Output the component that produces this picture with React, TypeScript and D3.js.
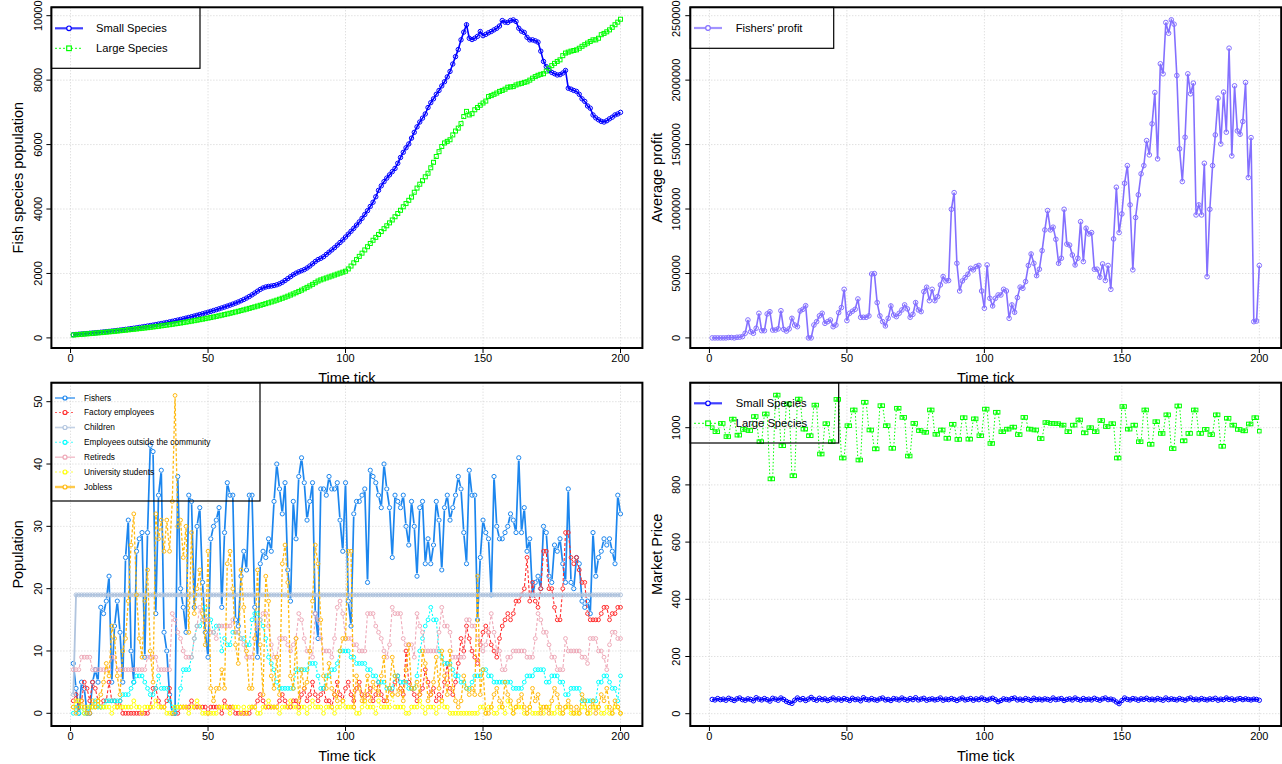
import React from "react";
import * as d3 from "d3";

// ---------------- DATA ----------------
const TIME: number[] = d3.range(1, 201);

const SMALL_POP = [
  100,108,115,122,130,137,145,152,160,168,
  176,185,194,203,212,222,232,243,254,265,
  277,289,301,314,327,340,354,368,383,398,
  413,429,445,462,479,497,515,534,553,573,
  593,614,635,657,679,702,725,749,773,798,
  823,849,875,902,930,958,987,1017,1048,1080,
  1115,1152,1192,1236,1284,1336,1392,1450,1505,1550,
  1580,1598,1610,1625,1648,1680,1725,1780,1840,1900,
  1960,2010,2050,2085,2120,2170,2230,2300,2370,2430,
  2470,2520,2590,2660,2730,2800,2880,2960,3040,3130,
  3220,3310,3400,3500,3600,3710,3830,3950,4080,4210,
  4380,4580,4720,4850,4960,5060,5160,5260,5420,5600,
  5760,5900,6020,6200,6380,6550,6700,6820,6950,7150,
  7300,7420,7560,7680,7820,7950,8100,8270,8500,8730,
  8950,9250,9490,9720,9300,9260,9300,9360,9510,9380,
  9420,9470,9510,9560,9610,9680,9850,9800,9790,9850,
  9870,9820,9610,9520,9480,9330,9250,9250,9220,9180,
  8900,8580,8420,8300,8240,8200,8160,8170,8220,8300,
  7750,7720,7680,7650,7560,7420,7340,7200,7130,6920,
  6830,6770,6720,6700,6740,6800,6850,6920,6950,7000,
];

const LARGE_POP = [
  90,98,105,112,119,126,133,140,148,155,
  163,171,179,187,195,204,213,222,231,240,
  250,259,268,278,288,298,308,318,329,340,
  351,362,374,386,398,410,423,436,449,462,
  476,490,505,520,535,550,566,582,598,615,
  632,650,668,686,705,724,744,764,784,805,
  826,848,870,893,916,940,964,988,1013,1038,
  1063,1089,1115,1142,1170,1200,1230,1262,1295,1330,
  1366,1403,1442,1482,1524,1568,1614,1662,1712,1764,
  1800,1830,1860,1890,1920,1950,1980,2010,2040,2070,
  2140,2230,2330,2430,2530,2630,2730,2830,2930,3030,
  3120,3210,3300,3390,3480,3570,3660,3760,3860,3960,
  4070,4170,4270,4370,4520,4650,4770,4880,5000,5110,
  5280,5450,5630,5780,5940,6050,6100,6150,6300,6420,
  6510,6650,6870,7030,6920,6960,7080,7150,7220,7290,
  7350,7490,7520,7560,7600,7650,7680,7720,7780,7790,
  7800,7850,7880,7900,7930,7950,8000,8060,8110,8150,
  8180,8200,8280,8370,8450,8520,8580,8630,8760,8840,
  8870,8900,8920,8940,8990,9050,9100,9150,9200,9250,
  9250,9300,9410,9450,9500,9560,9640,9720,9800,9890,
];

const PROFIT = [
  0,0,0,0,0,0,3000,3000,0,5000,
  6000,10000,36000,139000,48000,36000,75000,191000,56000,56000,
  186000,203000,61000,61000,70000,211000,66000,53000,70000,152000,
  100000,87000,209000,222000,250000,0,0,100000,126000,171000,
  191000,113000,126000,139000,87000,100000,196000,235000,377000,134000,
  191000,207000,222000,302000,160000,160000,160000,171000,496000,499000,
  274000,171000,126000,93000,152000,248000,178000,165000,191000,217000,
  256000,225000,160000,183000,274000,217000,204000,359000,393000,289000,
  377000,289000,320000,411000,476000,442000,445000,998000,1127000,579000,
  364000,442000,468000,494000,540000,528000,554000,562000,364000,230000,
  566000,307000,248000,307000,333000,333000,377000,364000,152000,256000,
  199000,313000,394000,385000,437000,562000,651000,579000,483000,533000,
  677000,838000,988000,838000,859000,765000,579000,618000,998000,728000,
  720000,643000,566000,618000,902000,592000,851000,807000,817000,533000,
  533000,471000,574000,445000,562000,377000,768000,1169000,817000,962000,
  1200000,1337000,1032000,528000,934000,1110000,1273000,1337000,1531000,1420000,
  1661000,1904000,1389000,2127000,2049000,2447000,2364000,2468000,2434000,2036000,
  1467000,1213000,1557000,2049000,1894000,1977000,954000,1032000,954000,1355000,
  475000,998000,1337000,1575000,1860000,1505000,1907000,1596000,2248000,1412000,
  1956000,1606000,1580000,1679000,1982000,1244000,1554000,126000,131000,562000,
];

const FISHERS = [
  8,4,0,5,4,0,0,5,7,5,
  17,16,18,22,5,14,18,13,5,25,
  31,10,5,26,28,29,9,29,43,42,
  16,35,39,13,10,3,0,0,38,20,
  17,13,35,34,17,30,33,21,13,9,
  28,30,31,33,17,29,37,35,35,15,
  14,22,26,23,35,35,17,9,24,26,
  25,28,26,34,40,36,32,37,23,18,
  34,28,38,41,37,31,34,37,16,12,
  36,36,35,38,36,36,37,31,26,37,
  18,14,32,34,34,35,36,21,39,38,
  37,35,33,40,36,33,25,35,34,33,
  35,30,27,34,30,22,33,34,24,28,
  24,27,34,31,23,33,35,31,33,35,
  38,36,29,24,39,35,35,15,25,31,
  29,28,19,38,30,28,28,29,30,32,
  31,29,41,29,33,26,28,19,21,22,
  20,30,29,22,21,27,26,28,24,21,
  36,21,20,25,24,18,17,18,16,29,
  22,25,26,28,27,28,26,24,35,32,
];

const FACTORY = [
  2,3,1,2,5,4,2,5,4,2,
  1,2,2,5,2,2,1,2,0,0,
  0,0,0,0,0,0,0,0,1,4,
  4,2,1,1,2,4,0,0,0,1,
  1,1,1,2,1,1,1,1,1,0,
  1,1,1,1,0,2,1,1,1,0,
  0,0,0,0,0,1,1,2,3,2,
  1,1,1,1,1,2,3,2,1,1,
  2,2,1,3,4,2,3,5,3,2,
  3,4,2,2,1,3,5,3,2,4,
  5,3,2,4,5,3,2,3,4,2,
  3,5,3,2,2,4,3,5,6,4,
  3,10,5,4,3,2,3,4,7,5,
  3,4,2,3,2,5,8,4,3,5,
  8,12,10,14,12,10,9,8,11,13,
  14,13,11,10,9,12,14,15,16,15,
  16,18,18,19,20,25,18,21,18,17,
  20,26,26,20,20,17,15,15,20,29,
  29,25,24,25,23,21,21,16,15,15,
  15,15,16,17,17,15,16,16,17,17,
];

const CHILDREN = [
  3,19,19,19,19,19,19,19,19,19,
  19,19,19,19,19,19,19,19,19,19,
  19,19,19,19,19,19,19,19,19,19,
  19,19,19,19,19,19,19,19,19,19,
  19,19,19,19,19,19,19,19,19,19,
  19,19,19,19,19,19,19,19,19,19,
  19,19,19,19,19,19,19,19,19,19,
  19,19,19,19,19,19,19,19,19,19,
  19,19,19,19,19,19,19,19,19,19,
  19,19,19,19,19,19,19,19,19,19,
  19,19,19,19,19,19,19,19,19,19,
  19,19,19,19,19,19,19,19,19,19,
  19,19,19,19,19,19,19,19,19,19,
  19,19,19,19,19,19,19,19,19,19,
  19,19,19,19,19,19,19,19,19,19,
  19,19,19,19,19,19,19,19,19,19,
  19,19,19,19,19,19,19,19,19,19,
  19,19,19,19,19,19,19,19,19,19,
  19,19,19,19,19,19,19,19,19,19,
  19,19,19,19,19,19,19,19,19,19,
];

const OUTSIDE = [
  0,1,0,1,0,0,1,1,2,1,
  1,1,2,2,2,2,2,2,3,3,
  3,4,5,6,6,6,5,4,3,3,
  4,6,4,4,4,2,1,0,1,4,
  7,7,7,9,12,14,14,15,17,15,
  15,13,14,14,10,12,11,11,13,13,
  13,12,12,11,11,15,16,16,15,14,
  12,9,8,7,5,4,4,4,4,4,
  4,7,7,7,7,7,8,8,8,6,
  4,4,6,6,7,7,8,10,10,10,
  10,9,9,8,8,8,8,7,7,6,
  6,5,5,5,4,4,4,6,6,5,
  5,5,4,4,4,6,10,12,14,15,
  17,15,15,10,9,8,8,8,7,6,
  6,5,5,4,4,5,6,6,6,7,
  7,6,6,5,5,5,5,5,5,5,
  4,4,4,4,5,6,6,6,7,7,
  7,7,5,5,6,6,6,5,5,3,
  3,4,4,4,4,2,2,2,2,2,
  2,5,5,6,6,5,4,4,2,6,
];

const RETIREDS = [
  7,7,7,9,9,9,9,7,7,7,
  7,7,7,7,9,9,7,7,7,7,
  7,7,7,7,7,7,7,9,9,9,
  9,7,7,7,7,7,16,15,13,12,
  10,9,9,9,12,14,17,15,15,15,
  13,13,12,14,14,14,14,14,15,13,
  13,12,11,9,9,9,12,14,15,16,
  16,14,11,9,9,12,12,12,11,10,
  11,12,16,15,12,10,10,9,16,15,
  12,10,10,10,9,12,17,18,16,12,
  12,12,11,11,10,10,10,16,16,16,
  14,13,12,10,9,11,17,16,16,16,
  12,11,11,11,9,16,14,13,10,10,
  10,10,10,13,17,14,14,13,9,9,
  9,9,9,15,15,14,14,12,11,10,
  11,13,16,13,10,10,7,7,9,9,
  10,10,10,10,10,9,9,9,12,16,
  15,13,13,11,9,9,7,7,7,12,
  10,10,10,10,10,9,9,8,12,12,
  12,10,10,9,7,11,13,13,12,12,
];

const UNIVERSITY = [
  1,2,2,1,0,1,1,1,1,2,
  1,1,1,1,0,1,1,1,1,1,
  1,1,2,1,1,0,1,1,1,1,
  2,1,1,1,0,0,0,1,1,1,
  1,1,0,1,1,2,1,0,0,0,
  0,0,0,1,1,1,1,0,1,1,
  1,0,1,0,1,1,1,0,0,1,
  1,2,1,1,1,0,1,1,1,2,
  1,1,0,1,1,0,1,2,1,1,
  1,0,1,1,1,0,1,1,2,1,
  1,1,1,0,0,1,2,1,1,1,
  0,2,1,1,1,1,3,1,1,1,
  1,0,0,1,1,1,2,1,0,1,
  1,1,0,1,2,1,1,0,0,0,
  0,0,0,0,0,0,0,0,1,1,
  0,1,1,0,0,1,1,0,2,1,
  0,1,1,1,0,0,1,0,0,0,
  1,0,1,1,0,0,1,0,0,1,
  1,0,0,0,0,1,1,0,0,1,
  1,1,0,0,1,0,0,1,1,0,
];

const JOBLESS = [
  1,0,1,2,1,0,0,2,1,2,
  3,5,8,6,14,12,6,3,10,12,
  18,27,32,19,12,9,18,23,10,5,
  32,28,31,26,31,26,34,51,30,31,
  25,30,13,29,16,20,23,16,11,26,
  4,2,4,4,7,4,24,26,20,11,
  8,23,17,10,4,4,12,23,11,3,
  22,18,6,4,9,3,24,27,21,6,
  4,12,2,7,4,5,10,18,27,24,
  15,6,4,8,4,3,2,10,12,12,
  26,26,1,6,4,2,3,6,2,5,
  4,3,6,9,2,4,9,6,3,4,
  2,7,11,4,4,5,3,10,8,2,
  3,5,9,4,10,6,3,10,4,2,
  1,2,6,4,3,4,3,22,3,7,
  0,0,1,3,4,2,1,5,3,2,
  0,1,2,3,1,0,1,4,2,3,
  0,1,1,0,2,4,3,1,0,1,
  2,1,0,1,0,3,2,0,1,2,
  0,1,3,2,4,1,0,2,1,0,
];

const SMALL_PRICE = [
  50,48,53,49,51,47,54,50,46,52,
  55,49,47,52,50,45,56,51,48,53,
  49,44,54,51,47,55,50,43,39,36,
  47,55,49,53,46,51,57,50,47,54,
  49,52,46,50,55,48,52,47,53,50,
  46,54,49,51,45,56,50,48,53,49,
  47,52,55,48,50,46,53,51,48,55,
  50,47,53,49,56,48,51,54,47,50,
  52,48,50,55,47,51,49,53,50,46,
  51,55,48,50,53,47,52,49,55,50,
  47,51,54,49,42,46,52,50,48,53,
  55,48,51,47,53,50,46,54,49,51,
  48,52,50,47,55,49,51,53,46,50,
  52,48,55,50,47,53,49,51,48,54,
  50,47,52,55,49,51,48,41,35,46,
  55,50,48,53,51,47,52,50,54,49,
  51,48,53,50,47,55,49,52,50,48,
  53,50,47,52,55,49,51,48,53,50,
  48,52,50,54,47,51,49,55,50,52,
  47,51,53,49,52,50,48,51,50,47,
];

const LARGE_PRICE = [
  1000,986,986,1015,1015,969,969,1030,1030,974,
  974,994,994,990,990,1039,1039,951,951,1048,
  1048,821,821,1114,1114,937,937,1083,1083,832,
  832,1100,1100,995,995,972,972,1079,1079,908,
  908,1014,1014,951,951,1099,1099,894,894,1007,
  1007,1062,1062,887,887,1089,1089,992,992,926,
  926,1077,1077,1007,1007,928,928,1068,1068,1036,
  1036,901,901,1015,1015,990,990,984,984,1062,
  1062,977,977,992,992,963,963,1012,1012,959,
  959,1035,1035,960,960,1031,1031,972,972,1065,
  1065,945,945,1054,1054,986,986,995,995,1002,
  1002,976,976,1036,1036,995,995,992,992,962,
  962,1018,1018,1015,1015,1014,1014,1009,1009,986,
  986,1009,1009,1027,1027,982,982,1000,1000,986,
  986,1025,1025,1004,1004,1014,1014,894,894,1074,
  1074,995,995,1009,1009,951,951,1062,1062,942,
  942,1021,1021,980,980,1045,1045,927,927,1076,
  1076,954,954,980,980,1062,1062,980,980,994,
  994,976,976,1045,1045,935,935,1033,1033,1009,
  1009,994,994,989,989,1013,1013,1035,1035,988,
];

const X_TICKS = [0, 50, 100, 150, 200];
const POP_TICKS = [0, 2000, 4000, 6000, 8000, 10000];
const PROFIT_TICKS = [0, 500000, 1000000, 1500000, 2000000, 2500000];
const PEOPLE_TICKS = [0, 10, 20, 30, 40, 50];
const PRICE_TICKS = [0, 200, 400, 600, 800, 1000];

// ---------------- LAYOUT ----------------
const FONT = "'Liberation Sans', Arial, Helvetica, sans-serif";
type Box = { l: number; r: number; t: number; b: number };
const BOX_TL: Box = { l: 51.4, r: 642.4, t: 7.3, b: 348 };
const BOX_TR: Box = { l: 690.3, r: 1281.2, t: 7.3, b: 348 };
const BOX_BL: Box = { l: 51.4, r: 642.4, t: 382.7, b: 726 };
const BOX_BR: Box = { l: 690.3, r: 1281.2, t: 382.7, b: 726 };

const xScaleFor = (box: Box) =>
  d3.scaleLinear().domain([1 - 0.04 * 199, 200 + 0.04 * 199]).range([box.l, box.r]);

type SeriesProps = {
  data: number[];
  x: d3.ScaleLinear<number, number>;
  y: d3.ScaleLinear<number, number>;
  color: string;
  width?: number;
  dash?: string;
  marker?: "circle" | "square";
  size?: number;
  mode?: "o" | "b";
  clip: string;
};

function Series({ data, x, y, color, width = 1, dash, marker = "circle", size = 2.3, mode = "o", clip }: SeriesProps) {
  const pts: [number, number][] = data.map((d, i) => [x(TIME[i]), y(d)]);
  let path = "";
  if (mode === "o") {
    path = d3.line()(pts) || "";
  } else {
    const gap = size + 0.8;
    const parts: string[] = [];
    for (let i = 0; i < pts.length - 1; i++) {
      const [x0, y0] = pts[i];
      const [x1, y1] = pts[i + 1];
      const dx = x1 - x0, dy = y1 - y0;
      const len = Math.hypot(dx, dy);
      if (len <= 2 * gap) continue;
      const ux = dx / len, uy = dy / len;
      parts.push(`M${x0 + ux * gap},${y0 + uy * gap}L${x1 - ux * gap},${y1 - uy * gap}`);
    }
    path = parts.join("");
  }
  return (
    <g clipPath={`url(#${clip})`}>
      <path d={path} fill="none" stroke={color} strokeWidth={width} strokeDasharray={dash} />
      {pts.map(([px, py], i) =>
        marker === "circle" ? (
          <circle key={i} cx={px} cy={py} r={size} fill="none" stroke={color} strokeWidth={1} />
        ) : (
          <rect key={i} x={px - size} y={py - size} width={2 * size} height={2 * size} fill="none" stroke={color} strokeWidth={1} />
        )
      )}
    </g>
  );
}

function Grid({ box, x, y, yTicks, fill }: { box: Box; x: any; y: any; yTicks: number[]; fill?: boolean }) {
  return (
    <g>
      {fill && <rect x={box.l} y={box.t} width={box.r - box.l} height={box.b - box.t} fill="#fff" />}
      <g stroke="#d3d3d3" strokeWidth={1} strokeDasharray="1 2">
        {X_TICKS.map((v) => (
          <line key={"gx" + v} x1={x(v)} x2={x(v)} y1={box.t} y2={box.b} />
        ))}
        {yTicks.map((v) => (
          <line key={"gy" + v} x1={box.l} x2={box.r} y1={y(v)} y2={y(v)} />
        ))}
      </g>
    </g>
  );
}

function Axes({ box, x, y, yTicks, yTitle }: { box: Box; x: any; y: any; yTicks: number[]; yTitle: string }) {
  const cx = (box.l + box.r) / 2;
  const cy = (box.t + box.b) / 2;
  return (
    <g fontFamily={FONT} fill="#000">
      <rect x={box.l} y={box.t} width={box.r - box.l} height={box.b - box.t} fill="none" stroke="#000" strokeWidth={2} />
      {X_TICKS.map((v) => (
        <g key={"xt" + v}>
          <line x1={x(v)} x2={x(v)} y1={box.b} y2={box.b + 5} stroke="#000" />
          <text x={x(v)} y={box.b + 13.5} textAnchor="middle" fontSize={11}>
            {String(v)}
          </text>
        </g>
      ))}
      {yTicks.map((v) => (
        <g key={"yt" + v}>
          <line x1={box.l - 5} x2={box.l} y1={y(v)} y2={y(v)} stroke="#000" />
          <text transform={`translate(${box.l - 13.7},${y(v)}) rotate(-90)`} textAnchor="middle" dy="0.35em" fontSize={11}>
            {String(v)}
          </text>
        </g>
      ))}
      <text x={cx} y={box.b + 35} textAnchor="middle" fontSize={14.5}>
        Time tick
      </text>
      <text transform={`translate(${box.l - 33.4},${cy}) rotate(-90)`} textAnchor="middle" dy="0.35em" fontSize={14.5}>
        {yTitle}
      </text>
    </g>
  );
}

type LegendItem = { label: string; color: string; dash?: string; marker: "circle" | "square"; width: number };

function Legend({ x0, x1, y0, y1, rows, items, lineX0, lineX1, textX, fontSize, msize }: {
  x0: number; x1: number; y0: number; y1: number; rows: number[]; items: LegendItem[];
  lineX0: number; lineX1: number; textX: number; fontSize: number; msize: number;
}) {
  const mx = (lineX0 + lineX1) / 2;
  return (
    <g fontFamily={FONT}>
      <rect x={x0} y={y0} width={x1 - x0} height={y1 - y0} fill="none" stroke="#000" strokeWidth={1.2} />
      {items.map((it, i) => (
        <g key={it.label}>
          <line x1={lineX0} x2={lineX1} y1={rows[i]} y2={rows[i]} stroke={it.color} strokeWidth={it.width} strokeDasharray={it.dash} opacity={0.75} />
          {it.marker === "circle" ? (
            <circle cx={mx} cy={rows[i]} r={msize} fill="#fff" stroke={it.color} strokeWidth={1.2} />
          ) : (
            <rect x={mx - msize} y={rows[i] - msize} width={2 * msize} height={2 * msize} fill="#fff" stroke={it.color} strokeWidth={1.2} />
          )}
          <text x={textX} y={rows[i]} dy="0.35em" fontSize={fontSize} fill="#000">
            {it.label}
          </text>
        </g>
      ))}
    </g>
  );
}

export default function App() {
  const xL = xScaleFor(BOX_TL);
  const xR = xScaleFor(BOX_TR);
  const yTL = d3.scaleLinear().domain([0, 10000]).range([337.9, 15.7]);
  const yTR = d3.scaleLinear().domain([0, 2500000]).range([337.9, 15.7]);
  const yBL = d3.scaleLinear().domain([0, 50]).range([713.3, 401.7]);
  const yBR = d3.scaleLinear().domain([0, 1000]).range([713.7, 427.7]);

  const C_SMALL = "#0000ff";
  const C_LARGE = "#00ff00";
  const C_PROFIT = "#8470ff";
  const C_FISH = "#1c86ee";
  const C_FACT = "#ff2a2a";
  const C_CHILD = "#b0c4de";
  const C_OUT = "#00ffff";
  const C_RET = "#eea9b8";
  const C_UNI = "#ffff00";
  const C_JOB = "#ffb90f";

  const rect = (b: Box) => <rect x={b.l} y={b.t} width={b.r - b.l} height={b.b - b.t} />;

  return (
    <div style={{ position: "absolute", left: 0, top: 0, width: 1282, height: 764, background: "#fff" }}>
      <svg width={1282} height={764} style={{ display: "block" }}>
        <defs>
          <clipPath id="cTL">{rect(BOX_TL)}</clipPath>
          <clipPath id="cTR">{rect(BOX_TR)}</clipPath>
          <clipPath id="cBL">{rect(BOX_BL)}</clipPath>
          <clipPath id="cBR">{rect(BOX_BR)}</clipPath>
        </defs>
        <rect x={0} y={0} width={1282} height={764} fill="#fff" />

        {/* Top-left: fish population */}
        <Grid box={BOX_TL} x={xL} y={yTL} yTicks={POP_TICKS} />
        <Series data={SMALL_POP} x={xL} y={yTL} color={C_SMALL} width={1.6} marker="circle" size={2.2} clip="cTL" />
        <Series data={LARGE_POP} x={xL} y={yTL} color={C_LARGE} width={1} dash="1.5 2" marker="square" size={2} clip="cTL" />
        <Axes box={BOX_TL} x={xL} y={yTL} yTicks={POP_TICKS} yTitle="Fish species population" />
        <Legend x0={BOX_TL.l} x1={200} y0={BOX_TL.t} y1={68.3} rows={[28.3, 48.3]} lineX0={55} lineX1={83} textX={96} fontSize={11.2} msize={2.3}
          items={[
            { label: "Small Species", color: C_SMALL, marker: "circle", width: 2.2 },
            { label: "Large Species", color: C_LARGE, marker: "square", width: 1.2, dash: "2 2" },
          ]} />

        {/* Top-right: profit */}
        <Grid box={BOX_TR} x={xR} y={yTR} yTicks={PROFIT_TICKS} />
        <Series data={PROFIT} x={xR} y={yTR} color={C_PROFIT} width={1.6} marker="circle" size={2.3} clip="cTR" />
        <Axes box={BOX_TR} x={xR} y={yTR} yTicks={PROFIT_TICKS} yTitle="Average profit" />
        <Legend x0={BOX_TR.l} x1={833.7} y0={BOX_TR.t} y1={48.3} rows={[28]} lineX0={694} lineX1={722} textX={735.7} fontSize={11.2} msize={2.3}
          items={[{ label: "Fishers' profit", color: C_PROFIT, marker: "circle", width: 2.2 }]} />

        {/* Bottom-left: population groups */}
        <Grid box={BOX_BL} x={xL} y={yBL} yTicks={PEOPLE_TICKS} fill />
        <Series data={FISHERS} x={xL} y={yBL} color={C_FISH} width={1.7} marker="circle" size={2.1} mode="b" clip="cBL" />
        <Series data={FACTORY} x={xL} y={yBL} color={C_FACT} width={1.1} dash="3 2" marker="circle" size={1.9} mode="b" clip="cBL" />
        <Series data={CHILDREN} x={xL} y={yBL} color={C_CHILD} width={1.8} marker="circle" size={2} mode="o" clip="cBL" />
        <Series data={OUTSIDE} x={xL} y={yBL} color={C_OUT} width={1.1} dash="2 2" marker="circle" size={1.9} mode="b" clip="cBL" />
        <Series data={RETIREDS} x={xL} y={yBL} color={C_RET} width={1.1} dash="3 2" marker="circle" size={1.9} mode="b" clip="cBL" />
        <Series data={UNIVERSITY} x={xL} y={yBL} color={C_UNI} width={1.1} dash="1.5 2" marker="circle" size={1.9} mode="b" clip="cBL" />
        <Series data={JOBLESS} x={xL} y={yBL} color={C_JOB} width={1.3} dash="3 2" marker="circle" size={1.9} mode="b" clip="cBL" />
        <Axes box={BOX_BL} x={xL} y={yBL} yTicks={PEOPLE_TICKS} yTitle="Population" />
        <Legend x0={BOX_BL.l} x1={260} y0={BOX_BL.t} y1={501} rows={[398, 412.5, 427.5, 442.3, 457.2, 472, 487]} lineX0={55} lineX1={75} textX={84} fontSize={8.3} msize={2}
          items={[
            { label: "Fishers", color: C_FISH, marker: "circle", width: 1.6 },
            { label: "Factory employees", color: C_FACT, marker: "circle", width: 1.1, dash: "2 2" },
            { label: "Children", color: C_CHILD, marker: "circle", width: 1.6 },
            { label: "Employees outside the community", color: C_OUT, marker: "circle", width: 1.1, dash: "2 2" },
            { label: "Retireds", color: C_RET, marker: "circle", width: 1.4 },
            { label: "University students", color: C_UNI, marker: "circle", width: 1.1, dash: "2 2" },
            { label: "Jobless", color: C_JOB, marker: "circle", width: 2.4 },
          ]} />

        {/* Bottom-right: market price */}
        <Grid box={BOX_BR} x={xR} y={yBR} yTicks={PRICE_TICKS} fill />
        <Series data={SMALL_PRICE} x={xR} y={yBR} color={C_SMALL} width={1.5} marker="circle" size={2.2} clip="cBR" />
        <Series data={LARGE_PRICE} x={xR} y={yBR} color={C_LARGE} width={1} dash="1.5 2" marker="square" size={1.8} clip="cBR" />
        <Axes box={BOX_BR} x={xR} y={yBR} yTicks={PRICE_TICKS} yTitle="Market Price" />
        <Legend x0={BOX_BR.l} x1={838.7} y0={BOX_BR.t} y1={443} rows={[403.3, 423.3]} lineX0={694} lineX1={722} textX={735.7} fontSize={11.2} msize={2.3}
          items={[
            { label: "Small Species", color: C_SMALL, marker: "circle", width: 2.2 },
            { label: "Large Species", color: C_LARGE, marker: "square", width: 1.2, dash: "2 2" },
          ]} />
      </svg>
    </div>
  );
}
